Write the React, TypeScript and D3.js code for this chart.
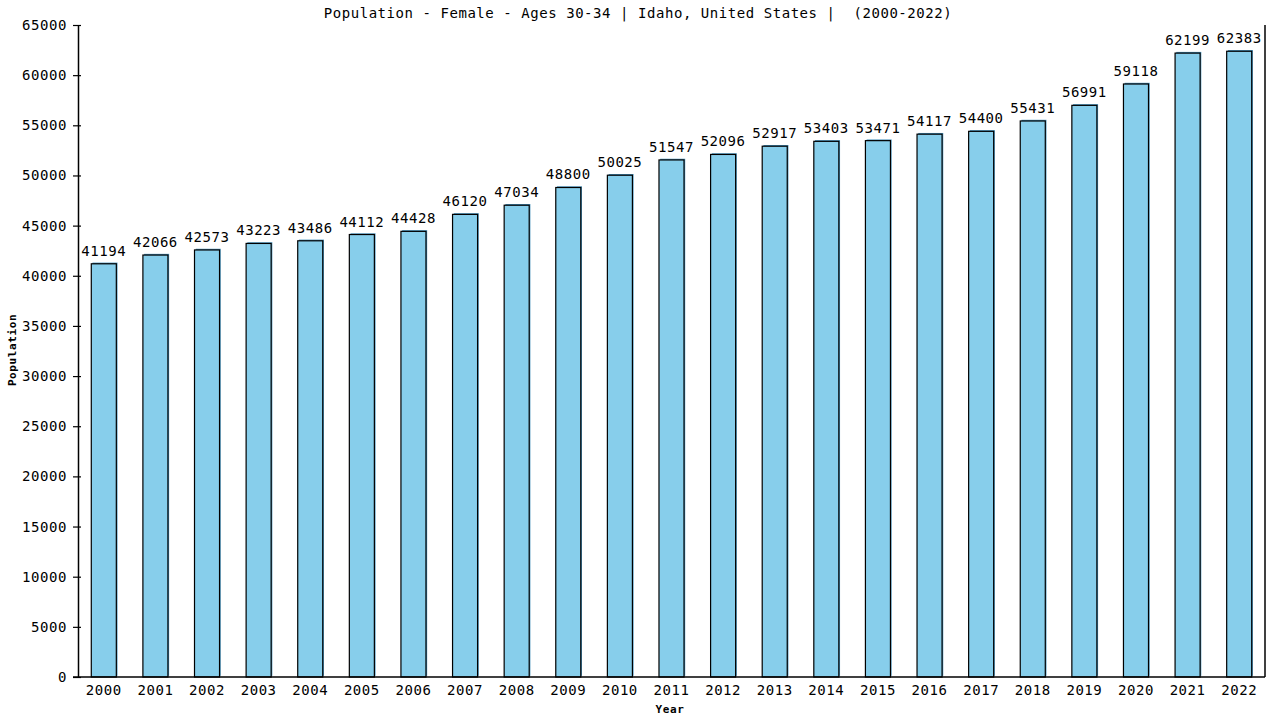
import React from 'react';
import * as d3 from 'd3';

const years = [
  '2000', '2001', '2002', '2003', '2004', '2005', '2006', '2007', '2008', '2009', '2010', '2011',
  '2012', '2013', '2014', '2015', '2016', '2017', '2018', '2019', '2020', '2021', '2022'
];
const population = [
  41194, 42066, 42573, 43223, 43486, 44112, 44428, 46120, 47034, 48800, 50025, 51547,
  52096, 52917, 53403, 53471, 54117, 54400, 55431, 56991, 59118, 62199, 62383
];
const yTicks = [0, 5000, 10000, 15000, 20000, 25000, 30000, 35000, 40000, 45000, 50000, 55000, 60000, 65000];

const title = 'Population - Female - Ages 30-34 | Idaho, United States |  (2000-2022)';
const font = '"DejaVu Sans Mono", monospace';

const App: React.FC = () => {
  const svgRef = React.useRef<SVGSVGElement>(null);
  const width = 1280;
  const height = 720;

  React.useEffect(() => {
    if (!svgRef.current) return;
    const svg = d3.select(svgRef.current);
    svg.selectAll('*').remove();

    const left = 78;
    const right = 1265;
    const top = 25;
    const bottom = 677;

    const x = d3.scaleBand<string>().domain(years).range([left, right]).padding(0);
    const y = d3.scaleLinear().domain([0, 65000]).range([bottom, top]);
    const barW = x.bandwidth() * 0.485;

    // 제목
    svg.append('text')
      .attr('x', 638)
      .attr('y', 18)
      .attr('text-anchor', 'middle')
      .attr('font-family', font)
      .attr('font-size', 14)
      .attr('letter-spacing', 0.55)
      .style('white-space', 'pre')
      .text(title);

    // 막대 그림자
    svg.append('g')
      .selectAll('rect')
      .data(population)
      .enter().append('rect')
      .attr('x', (d, i) => (x(years[i]) || 0) + (x.bandwidth() - barW) / 2 + 1.2)
      .attr('y', d => y(d) - 1.2)
      .attr('width', barW)
      .attr('height', d => bottom - y(d))
      .attr('fill', '#4a94bd');

    // 막대
    svg.append('g')
      .selectAll('rect')
      .data(population)
      .enter().append('rect')
      .attr('x', (d, i) => (x(years[i]) || 0) + (x.bandwidth() - barW) / 2)
      .attr('y', d => y(d))
      .attr('width', barW)
      .attr('height', d => bottom - y(d))
      .attr('fill', '#87ceeb')
      .attr('stroke', '#000')
      .attr('stroke-width', 1.2);

    // 값 라벨
    svg.append('g')
      .selectAll('text')
      .data(population)
      .enter().append('text')
      .attr('x', (d, i) => (x(years[i]) || 0) + x.bandwidth() / 2)
      .attr('y', d => y(d) - 8)
      .attr('text-anchor', 'middle')
      .attr('font-family', font)
      .attr('font-size', 14)
      .attr('letter-spacing', 0.55)
      .text(d => d);

    // Y축
    const yAxis = svg.append('g')
      .attr('transform', `translate(${left},0)`)
      .call(d3.axisLeft(y).tickValues(yTicks).tickSize(5).tickSizeOuter(0).tickFormat(d => String(d)));
    yAxis.select('.domain').attr('stroke', '#000').attr('stroke-width', 1.5);
    yAxis.selectAll('.tick line').attr('x1', 3).attr('x2', -5).attr('stroke', '#000').attr('stroke-width', 1.2);
    yAxis.selectAll('.tick text')
      .attr('x', -11)
      .attr('font-family', font)
      .attr('font-size', 14)
      .attr('letter-spacing', 0.55)
      .attr('fill', '#000');

    // X축
    const xAxis = svg.append('g')
      .attr('transform', `translate(0,${bottom})`)
      .call(d3.axisBottom(x).tickSize(0).tickSizeOuter(0));
    xAxis.select('.domain').remove();
    xAxis.append('line')
      .attr('x1', left - 5)
      .attr('x2', right)
      .attr('stroke', '#000')
      .attr('stroke-width', 1.5);
    xAxis.selectAll('.tick text')
      .attr('y', 8)
      .attr('dy', '0.71em')
      .attr('font-family', font)
      .attr('font-size', 14)
      .attr('letter-spacing', 0.55)
      .attr('fill', '#000');

    // 오른쪽 테두리
    svg.append('line')
      .attr('x1', right)
      .attr('x2', right)
      .attr('y1', top)
      .attr('y2', bottom)
      .attr('stroke', '#000')
      .attr('stroke-width', 1.5);

    // 축 제목
    svg.append('text')
      .attr('transform', `translate(16,350) rotate(-90)`)
      .attr('text-anchor', 'middle')
      .attr('font-family', font)
      .attr('font-size', 11)
      .attr('font-weight', 'bold')
      .attr('letter-spacing', 0.6)
      .text('Population');

    svg.append('text')
      .attr('x', 670)
      .attr('y', 713)
      .attr('text-anchor', 'middle')
      .attr('font-family', font)
      .attr('font-size', 11)
      .attr('font-weight', 'bold')
      .attr('letter-spacing', 0.6)
      .text('Year');
  }, []);

  return (
    <div style={{ position: 'absolute', left: 0, top: 0 }}>
      <svg ref={svgRef} width={width} height={height} style={{ display: 'block', background: '#fff' }} />
    </div>
  );
};

export default App;
